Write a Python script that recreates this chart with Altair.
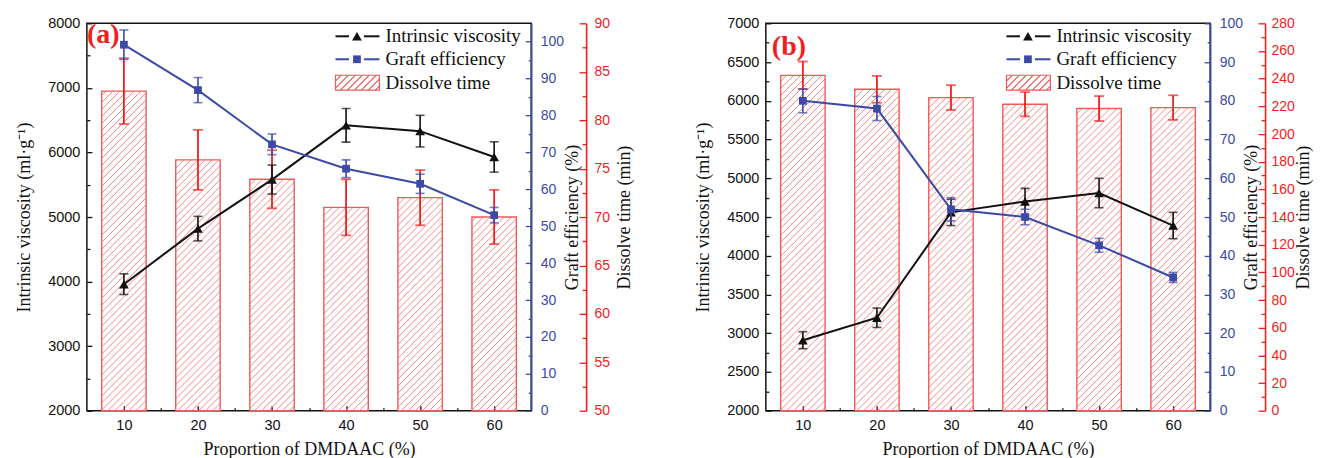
import altair as alt
import numpy as np
import pandas as pd

# ---------------- data ----------------
proportion = [10, 20, 30, 40, 50, 60]

a_viscosity = [3960, 4820, 5580, 6420, 6330, 5930]
a_viscosity_err = [160, 190, 225, 260, 245, 235]
a_graft = [99.2, 86.9, 72.2, 65.6, 61.5, 53.0]
a_graft_err = [4.0, 3.4, 2.8, 2.4, 2.6, 2.1]
a_dissolve = [83.0, 75.9, 73.9, 71.0, 72.0, 70.0]
a_dissolve_err = [3.4, 3.1, 3.0, 2.9, 2.85, 2.8]

b_viscosity = [2910, 3200, 4560, 4700, 4810, 4390]
b_viscosity_err = [110, 125, 170, 170, 190, 170]
b_graft = [80.0, 78.0, 52.0, 50.0, 42.7, 34.4]
b_graft_err = [3.1, 3.1, 3.0, 2.0, 1.8, 1.3]
b_dissolve = [242.4, 232.3, 226.3, 221.5, 218.4, 219.1]
b_dissolve_err = [10.0, 9.7, 9.0, 8.8, 9.0, 8.9]

x_minor_ticks = [15, 25, 35, 45, 55]

a_left_ticks = [2000, 3000, 4000, 5000, 6000, 7000, 8000]
a_left_minor = [2500, 3500, 4500, 5500, 6500, 7500]
a_blue_ticks = [0, 10, 20, 30, 40, 50, 60, 70, 80, 90, 100]
a_blue_minor = [5, 15, 25, 35, 45, 55, 65, 75, 85, 95]
a_red_ticks = [50, 55, 60, 65, 70, 75, 80, 85, 90]
a_red_minor = [52.5, 57.5, 62.5, 67.5, 72.5, 77.5, 82.5, 87.5]

b_left_ticks = [2000, 2500, 3000, 3500, 4000, 4500, 5000, 5500, 6000, 6500, 7000]
b_left_minor = [2250, 2750, 3250, 3750, 4250, 4750, 5250, 5750, 6250, 6750]
b_blue_ticks = [0, 10, 20, 30, 40, 50, 60, 70, 80, 90, 100]
b_blue_minor = [5, 15, 25, 35, 45, 55, 65, 75, 85, 95]
b_red_ticks = [0, 20, 40, 60, 80, 100, 120, 140, 160, 180, 200, 220, 240, 260, 280]
b_red_minor = [10, 30, 50, 70, 90, 110, 130, 150, 170, 190, 210, 230, 250, 270]

legend_labels = ["Intrinsic viscosity", "Graft efficiency", "Dissolve time"]
panel_tags = ["(a)", "(b)"]
x_title = "Proportion of DMDAAC (%)"
left_title = "Intrinsic viscosity (ml·g⁻¹)"
blue_title = "Graft efficiency (%)"
red_title = "Dissolve time (min)"

# ---------------- style ----------------
PLOT_W = 445
PLOT_H = 388
X_DOM = [5, 65]
BAR_HALF = 3
HATCH_STEP = 7.0

SERIF = "Liberation Serif"
SANS = "Liberation Sans"
BLACK = "#111111"
BLUE = "#3A4AA6"
RED = "#F01E1E"
BAR_EDGE = "#F05A5A"
HATCH = "#F47878"


def hatch_table(values, red_dom):
    pxx = PLOT_W / (X_DOM[1] - X_DOM[0])
    pxy = PLOT_H / (red_dom[1] - red_dom[0])
    rows = []
    for c, v in zip(proportion, values):
        x0 = c - BAR_HALF
        W = 2 * BAR_HALF * pxx
        H = (v - red_dom[0]) * pxy
        u0 = (x0 - X_DOM[0]) * pxx
        k0 = int(np.floor((u0 - H) / HATCH_STEP))
        k1 = int(np.ceil((u0 + W) / HATCH_STEP))
        for k in range(k0, k1 + 1):
            off = k * HATCH_STEP - u0
            us = max(0.0, off)
            ue = min(W, H + off)
            if ue - us <= 0.4:
                continue
            rows.append(dict(x=x0 + us / pxx, y=red_dom[0] + (us - off) / pxy,
                             x2=x0 + ue / pxx, y2=red_dom[0] + (ue - off) / pxy))
    return pd.DataFrame(rows)


def swatch_gradient(w=44.0, h=15.0, step=7.0):
    lam = w * (w + h) / (w * w + h * h)
    period = step / (w + h)
    stops = []
    k = 0
    while k * period < 1.0:
        a = k * period
        b = a + 0.74 * period
        c = a + period
        stops.append({"offset": min(a, 1.0), "color": "#ffffff"})
        stops.append({"offset": min(b, 1.0), "color": "#ffffff"})
        stops.append({"offset": min(b, 1.0), "color": HATCH})
        stops.append({"offset": min(c, 1.0), "color": HATCH})
        k += 1
    return {"gradient": "linear", "x1": 0, "y1": 0, "x2": lam, "y2": lam * h / w,
            "stops": stops}


def ax(**kw):
    base = dict(grid=False, labelFont=SANS, labelFontSize=14.5, titleFont=SERIF,
                titleFontSize=18, titleFontWeight="normal", titleColor=BLACK,
                labelFlush=False, labelOverlap=False, tickWidth=1.3)
    base.update(kw)
    return alt.Axis(**base)


def make_panel(visc, visc_err, graft, graft_err, dis, dis_err,
               left_dom, left_ticks, left_minor,
               blue_dom, blue_ticks, blue_minor,
               red_dom, red_ticks, red_minor,
               tag, tag_x, tag_y, leg_x, red_label_pad, red_title_pad):
    df = pd.DataFrame({
        "p": proportion,
        "visc": visc,
        "visc_lo": np.array(visc) - np.array(visc_err),
        "visc_hi": np.array(visc) + np.array(visc_err),
        "graft": graft,
        "graft_lo": np.array(graft) - np.array(graft_err),
        "graft_hi": np.array(graft) + np.array(graft_err),
        "dis": dis,
        "dis_lo": np.array(dis) - np.array(dis_err),
        "dis_hi": np.array(dis) + np.array(dis_err),
        "bx0": np.array(proportion) - BAR_HALF,
        "bx1": np.array(proportion) + BAR_HALF,
    })
    hdf = hatch_table(dis, red_dom)

    xs = alt.Scale(domain=X_DOM, nice=False, zero=False)

    def ys(d):
        return alt.Scale(domain=d, nice=False, zero=False)

    x_major = ax(orient="bottom", values=proportion, format="d", offset=-5, tickSize=5,
                 domain=False, labelPadding=8, labelColor=BLACK, tickColor=BLACK,
                 title=x_title, titlePadding=8, labelAngle=0)
    x_minor = ax(orient="bottom", values=x_minor_ticks, offset=-3, tickSize=3, domain=False,
                 labels=False, tickColor=BLACK, title=None)

    red_major = ax(orient="right", values=red_ticks, format="d",
                   offset=48, tickSize=7, domain=False, labelPadding=red_label_pad,
                   labelColor=RED, labelFontSize=14,
                   tickColor=RED, title=red_title, titleAngle=270, titleBaseline="top",
                   titlePadding=red_title_pad)
    red_min = ax(orient="right", values=red_minor, offset=51, tickSize=4, domain=False,
                 labels=False, tickColor=RED, title=None)
    red_dom_ax = ax(orient="right", offset=55, ticks=False, labels=False, domain=True,
                    domainColor=RED, domainWidth=1.6, title=None)

    left_major = ax(orient="left", values=left_ticks, format="d", offset=-5, tickSize=5,
                    domain=False, labelPadding=7, labelColor=BLACK, tickColor=BLACK,
                    title=left_title, titlePadding=14)
    left_min = ax(orient="left", values=left_minor, offset=-3, tickSize=3, domain=False,
                  labels=False, tickColor=BLACK, title=None)

    blue_major = ax(orient="right", values=blue_ticks, format="d", offset=-6, tickSize=6,
                    domain=False, labelPadding=9, labelColor=BLUE, tickColor=BLUE,
                    labelFontSize=14,
                    title=blue_title, titleAngle=270, titleBaseline="top", titlePadding=0)
    blue_min = ax(orient="right", values=blue_minor, offset=-3, tickSize=3, domain=False,
                  labels=False, tickColor=BLUE, title=None)
    blue_dom_ax = ax(orient="right", offset=0, ticks=False, labels=False, domain=True,
                     domainColor=BLUE, domainWidth=1.6, title=None)

    base = alt.Chart(df)

    hatch = alt.Chart(hdf).mark_rule(color=HATCH, strokeWidth=0.9).encode(
        x=alt.X("x:Q", scale=xs, axis=x_minor),
        x2="x2:Q",
        y=alt.Y("y:Q", scale=ys(red_dom), axis=red_major),
        y2="y2:Q",
    )
    bars = base.mark_rect(fill="transparent", stroke=BAR_EDGE, strokeWidth=1.4).encode(
        x=alt.X("bx0:Q", scale=xs, axis=x_major),
        x2="bx1:Q",
        y=alt.Y("dis:Q", scale=ys(red_dom), axis=red_min),
        y2=alt.datum(red_dom[0]),
    )
    red_err = base.mark_errorbar(ticks=True, size=10, thickness=1.8, color=RED).encode(
        x=alt.X("p:Q", scale=xs, axis=None),
        y=alt.Y("dis_lo:Q", scale=ys(red_dom), axis=red_dom_ax, title=None),
        y2="dis_hi:Q",
    )

    k_err = base.mark_errorbar(ticks=True, size=9, thickness=1.6, color=BLACK).encode(
        x=alt.X("p:Q", scale=xs, axis=None),
        y=alt.Y("visc_lo:Q", scale=ys(left_dom), axis=None, title=None),
        y2="visc_hi:Q",
    )
    k_line = base.mark_line(color=BLACK, strokeWidth=2).encode(
        x=alt.X("p:Q", scale=xs, axis=None),
        y=alt.Y("visc:Q", scale=ys(left_dom), axis=left_major),
    )
    k_pts = base.mark_point(shape="triangle-up", filled=True, size=95, color=BLACK,
                            opacity=1).encode(
        x=alt.X("p:Q", scale=xs, axis=None),
        y=alt.Y("visc:Q", scale=ys(left_dom), axis=left_min),
    )

    b_err = base.mark_errorbar(ticks=True, size=9, thickness=1.6, color=BLUE).encode(
        x=alt.X("p:Q", scale=xs, axis=None),
        y=alt.Y("graft_lo:Q", scale=ys(blue_dom), axis=blue_dom_ax, title=None),
        y2="graft_hi:Q",
    )
    b_line = base.mark_line(color=BLUE, strokeWidth=2).encode(
        x=alt.X("p:Q", scale=xs, axis=None),
        y=alt.Y("graft:Q", scale=ys(blue_dom), axis=blue_major),
    )
    b_pts = base.mark_point(shape="square", filled=True, size=60, color=BLUE,
                            opacity=1).encode(
        x=alt.X("p:Q", scale=xs, axis=None),
        y=alt.Y("graft:Q", scale=ys(blue_dom), axis=blue_min),
    )

    # legend (drawn inside the plot, top right)
    one = pd.DataFrame({"t": [0]})
    rows_y = [13, 36, 59]
    text_y = [18.5, 42, 65.5]
    x0, x1 = leg_x, leg_x + 44
    xm = leg_x + 21.5
    leg = []
    for lbl, ty in zip(legend_labels, text_y):
        leg.append(alt.Chart(pd.DataFrame({"t": [lbl]})).mark_text(
            font=SERIF, fontSize=19, align="left", baseline="alphabetic", color=BLACK
        ).encode(x=alt.value(leg_x + 50), y=alt.value(ty), text="t:N"))
    for col, shp, sz, yy in [(BLACK, "triangle-up", 95, rows_y[0]),
                             (BLUE, "square", 60, rows_y[1])]:
        leg.append(alt.Chart(one).mark_rule(color=col, strokeWidth=2).encode(
            x=alt.value(x0), x2=alt.value(xm - 8), y=alt.value(yy)))
        leg.append(alt.Chart(one).mark_rule(color=col, strokeWidth=2).encode(
            x=alt.value(xm + 7), x2=alt.value(x1), y=alt.value(yy)))
        leg.append(alt.Chart(one).mark_point(shape=shp, filled=True, size=sz, color=col,
                                             opacity=1).encode(
            x=alt.value(xm), y=alt.value(yy)))
    leg.append(alt.Chart(one).mark_rect(fill=swatch_gradient(), stroke=BAR_EDGE,
                                        strokeWidth=1.2).encode(
        x=alt.value(x0), x2=alt.value(x1), y=alt.value(rows_y[2] - 7),
        y2=alt.value(rows_y[2] + 8)))

    tag_mark = alt.Chart(pd.DataFrame({"t": [tag]})).mark_text(
        font=SERIF, fontSize=28, fontWeight="bold", color=RED, align="left",
        baseline="alphabetic"
    ).encode(x=alt.value(tag_x), y=alt.value(tag_y), text="t:N")

    layers = [hatch, bars, red_err, k_err, k_line, k_pts, b_err, b_line, b_pts] + leg + [tag_mark]
    return alt.layer(*layers).resolve_scale(y="independent").resolve_axis(
        x="independent", y="independent").properties(width=PLOT_W, height=PLOT_H)


panel_a = make_panel(a_viscosity, a_viscosity_err, a_graft, a_graft_err,
                     a_dissolve, a_dissolve_err,
                     [2000, 8000], a_left_ticks, a_left_minor,
                     [0, 105], a_blue_ticks, a_blue_minor,
                     [50, 90], a_red_ticks, a_red_minor,
                     panel_tags[0], 0, 20, 249, 8, 6)
panel_b = make_panel(b_viscosity, b_viscosity_err, b_graft, b_graft_err,
                     b_dissolve, b_dissolve_err,
                     [2000, 7000], b_left_ticks, b_left_minor,
                     [0, 100], b_blue_ticks, b_blue_minor,
                     [0, 280], b_red_ticks, b_red_minor,
                     panel_tags[1], 6, 32, 241, 6, 0)

chart = alt.hconcat(panel_a, panel_b, spacing=235, bounds="flush").configure_view(
    stroke=BLACK, strokeWidth=1.5
).properties(
    padding={"left": 6, "top": 6, "right": 0, "bottom": 0},
    background="white",
)

chart.save("out.html", embed_options={"renderer": "svg", "actions": False})
